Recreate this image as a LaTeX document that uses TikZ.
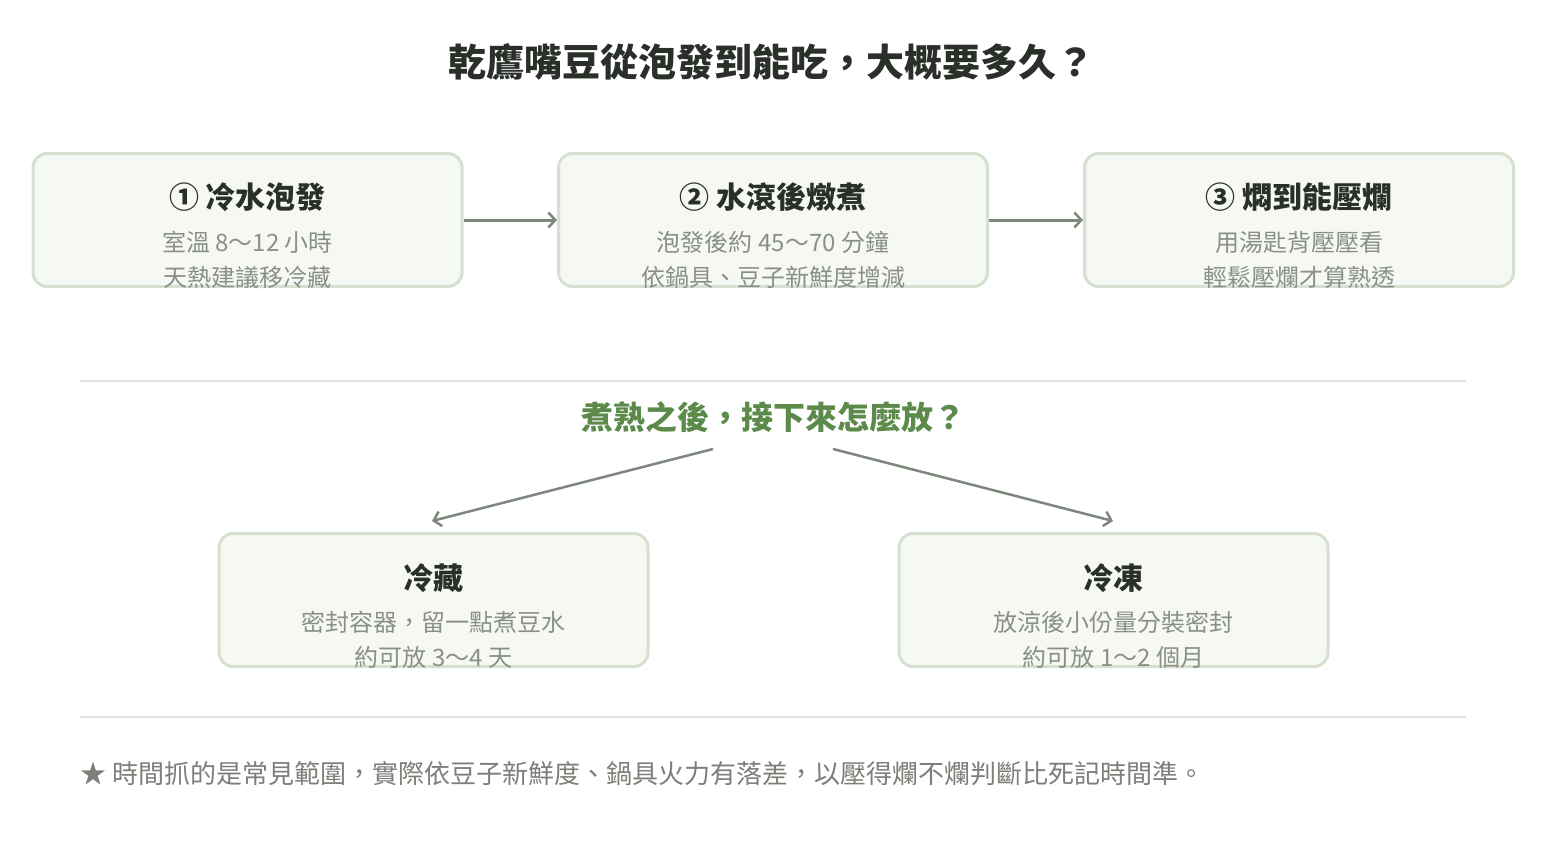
\documentclass[tikz,border=0pt]{standalone}
\usepackage{fontspec}
\setmainfont{Noto Sans CJK TC}
\usetikzlibrary{arrows.meta}
\definecolor{boxfill}{HTML}{F6F8F3}
\definecolor{boxline}{HTML}{D6E0D0}
\definecolor{arrowc}{HTML}{7D877C}
\definecolor{titlec}{HTML}{2A2F2A}
\definecolor{subc}{HTML}{8A9088}
\definecolor{greenc}{HTML}{5B8A4B}
\definecolor{notec}{HTML}{7A7F77}
\definecolor{rulec}{HTML}{DDE5D8}
\tikzset{
  stepbox/.style={draw=boxline, line width=3pt, fill=boxfill, rounded corners=14pt,
    minimum width=429pt, minimum height=133pt, inner sep=0pt},
  txt/.style={inner sep=0pt, anchor=base},
  maintitle/.style={txt, text=titlec, font=\fontsize{38}{42}\selectfont\bfseries},
  boxtitle/.style={txt, text=titlec, font=\fontsize{30}{34}\selectfont\bfseries},
  boxsub/.style={txt, text=subc, font=\fontsize{24}{28}\selectfont},
  subhead/.style={txt, text=greenc, font=\fontsize{32}{36}\selectfont\bfseries},
  note/.style={txt, anchor=base west, text=notec, font=\fontsize{26}{30}\selectfont},
  flow/.style={draw=arrowc, line width=3pt, -{Straight Barb[length=7pt,width=15pt,line width=2.5pt]}},
  branch/.style={draw=arrowc, line width=2.5pt, -{Straight Barb[length=7pt,width=15pt,line width=2.5pt]}},
  sep/.style={draw=rulec, line width=2pt}
}
\begin{document}
\begin{tikzpicture}[x=1pt,y=-1pt]
\useasboundingbox (0,0) rectangle (1546,840);
\node[maintitle] (title) at (771,77) {乾鷹嘴豆從泡發到能吃，大概要多久？};

\node[stepbox] (b1) at (247.5,220) {};
\node[stepbox] (b2) at (773,220) {};
\node[stepbox] (b3) at (1299,220) {};

\node[boxtitle] (t1) at (247.5,208) {① 冷水泡發};
\node[boxsub] (s1a) at (247.5,251) {室溫 8～12 小時};
\node[boxsub] (s1b) at (247.5,286) {天熱建議移冷藏};

\node[boxtitle] (t2) at (773,208) {② 水滾後燉煮};
\node[boxsub] (s2a) at (773,251) {泡發後約 45～70 分鐘};
\node[boxsub] (s2b) at (773,286) {依鍋具、豆子新鮮度增減};

\node[boxtitle] (t3) at (1299,208) {③ 燜到能壓爛};
\node[boxsub] (s3a) at (1299,251) {用湯匙背壓壓看};
\node[boxsub] (s3b) at (1299,286) {輕鬆壓爛才算熟透};

\draw[flow] (b1.east) -- (b2.west);
\draw[flow] (b2.east) -- (b3.west);

\coordinate (r1l) at (80,381);
\coordinate (r1r) at (1466,381);
\draw[sep] (r1l) -- (r1r);

\node[subhead] (q) at (773,429) {煮熟之後，接下來怎麼放？};

\node[stepbox] (b4) at (433.5,600) {};
\node[stepbox] (b5) at (1113.5,600) {};

\node[boxtitle] (t4) at (433.5,589) {冷藏};
\node[boxsub] (s4a) at (433.5,631) {密封容器，留一點煮豆水};
\node[boxsub] (s4b) at (433.5,666) {約可放 3～4 天};

\node[boxtitle] (t5) at (1113.5,589) {冷凍};
\node[boxsub] (s5a) at (1113.5,631) {放涼後小份量分裝密封};
\node[boxsub] (s5b) at (1113.5,666) {約可放 1～2 個月};

\coordinate (qa) at (713,449);
\coordinate (qb) at (833,449);
\coordinate (e4) at (432,521);
\coordinate (e5) at (1113,521);
\draw[branch] (qa) -- (e4);
\draw[branch] (qb) -- (e5);

\coordinate (r2l) at (80,717);
\coordinate (r2r) at (1466,717);
\draw[sep] (r2l) -- (r2r);

\node[note] (fn) at (80,783) {★ 時間抓的是常見範圍，實際依豆子新鮮度、鍋具火力有落差，以壓得爛不爛判斷比死記時間準。};
\end{tikzpicture}
\end{document}
